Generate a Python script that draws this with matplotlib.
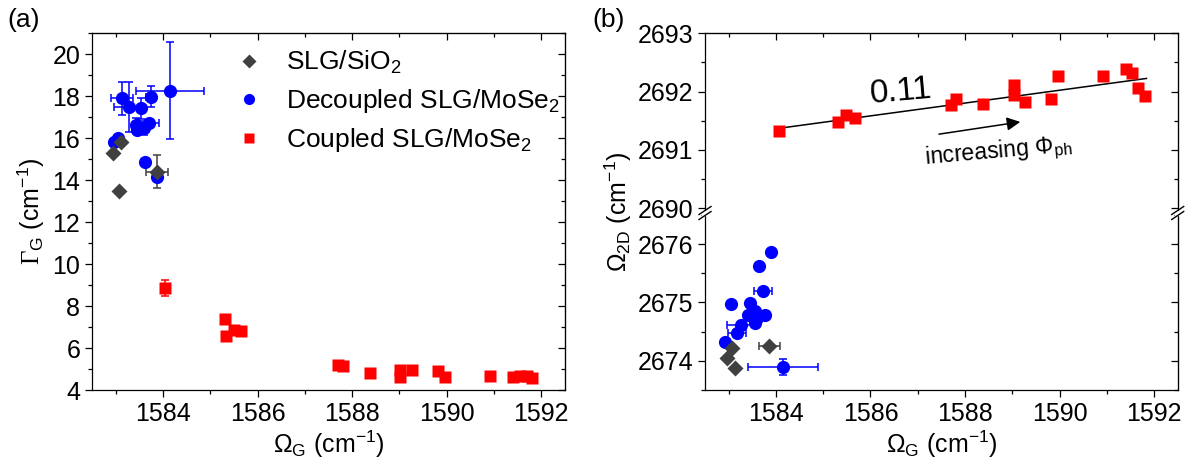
import numpy as np
import matplotlib
matplotlib.use('Agg')
import matplotlib.pyplot as plt
from matplotlib.ticker import MultipleLocator
from matplotlib.lines import Line2D

plt.rcParams['font.family'] = ['Liberation Sans', 'DejaVu Sans']
plt.rcParams['mathtext.fontset'] = 'custom'
plt.rcParams['mathtext.rm'] = 'Liberation Sans'
plt.rcParams['mathtext.it'] = 'Liberation Sans:italic'
plt.rcParams['mathtext.cal'] = 'Liberation Serif'
plt.rcParams['font.size'] = 18

GRAY = '#404040'
BLUE = '#0000ff'
RED = '#ff0000'

# ---- panel (a): Gamma_G vs Omega_G ----
sio2_x = [1583.11, 1582.95, 1583.07, 1583.87]
sio2_y = [15.84, 15.31, 13.50, 14.41]
sio2_xerr = [0, 0, 0, 0.23]
sio2_yerr = [0, 0, 0, 0.79]

dec_x = [1583.14, 1583.28, 1583.53, 1583.74, 1584.14, 1583.42, 1583.46, 1583.70,
         1583.60, 1582.97, 1583.04, 1583.63, 1583.88]
dec_y = [17.90, 17.48, 17.43, 17.98, 18.27, 16.63, 16.40, 16.71,
         16.48, 15.84, 16.00, 14.89, 14.17]
dec_xerr = [0.23, 0.32, 0, 0.10, 0.72, 0, 0, 0.21, 0, 0, 0, 0, 0]
dec_yerr = [0.80, 1.20, 0.50, 0.49, 2.31, 0.35, 0, 0, 0.35, 0, 0, 0, 0]

cpl_x = [1584.05, 1585.31, 1585.34, 1585.50, 1585.64, 1587.70, 1587.80, 1588.37,
         1589.01, 1589.01, 1589.26, 1589.81, 1589.96, 1590.91, 1591.40, 1591.55,
         1591.69, 1591.81]
cpl_y = [8.87, 7.40, 6.55, 6.87, 6.82, 5.20, 5.12, 4.81,
         4.97, 4.62, 4.97, 4.92, 4.62, 4.68, 4.62, 4.68,
         4.65, 4.57]
cpl_yerr = [0.38] + [0] * 17

# ---- panel (b): Omega_2D vs Omega_G ----
sio2_x2 = [1583.07, 1582.96, 1583.13, 1583.86]
sio2_y2 = [2674.22, 2674.05, 2673.88, 2674.26]
sio2_xerr2 = [0, 0, 0, 0.22]

dec_x2 = [1583.89, 1583.65, 1583.73, 1583.04, 1583.46, 1583.41, 1583.59, 1583.77,
          1583.55, 1583.55, 1583.27, 1583.17, 1582.92, 1584.15]
dec_y2 = [2675.86, 2675.62, 2675.19, 2674.98, 2674.99, 2674.79, 2674.73, 2674.79,
          2674.85, 2674.65, 2674.62, 2674.48, 2674.33, 2673.89]
dec_xerr2 = [0, 0, 0.19, 0, 0, 0, 0, 0, 0, 0, 0.30, 0.19, 0, 0.73]
dec_yerr2 = [0] * 13 + [0.14]

cpl_x2 = [1584.06, 1585.32, 1585.48, 1585.67, 1587.71, 1587.82, 1588.39, 1589.03,
          1589.03, 1589.28, 1589.81, 1589.97, 1590.91, 1591.41, 1591.54, 1591.66,
          1591.80]
cpl_y2 = [2691.32, 2691.47, 2691.60, 2691.54, 2691.77, 2691.87, 2691.78, 2692.11,
          2691.94, 2691.83, 2691.87, 2692.26, 2692.26, 2692.38, 2692.32, 2692.06,
          2691.92]

fit_slope = 0.11
fit_x = [1584.06, 1591.84]
fit_y0 = 2691.37

W, H = 1189, 468
fig = plt.figure(figsize=(W / 100, H / 100), dpi=100)


def fx(px):
    return px / W


def fy(py):
    return 1 - py / H


def errs(ax, x, y, xe, ye, color):
    x, y, xe, ye = map(np.asarray, (x, y, xe, ye))
    m = (xe > 0) | (ye > 0)
    if m.any():
        ax.errorbar(x[m], y[m], xerr=xe[m], yerr=ye[m], fmt='none', ecolor=color,
                    elinewidth=1.1, capsize=3, capthick=1.1, zorder=2)


def style(ax, xminor, yminor, top=True):
    ax.xaxis.set_minor_locator(MultipleLocator(xminor))
    ax.yaxis.set_minor_locator(MultipleLocator(yminor))
    ax.tick_params(which='major', direction='out', length=5, width=0.9, labelsize=18)
    ax.tick_params(which='minor', direction='out', length=3, width=0.9)
    for s in ax.spines.values():
        s.set_linewidth(0.9)
    sy = ax.secondary_yaxis('right')
    sy.yaxis.set_minor_locator(MultipleLocator(yminor))
    sy.yaxis.set_major_locator(ax.yaxis.get_major_locator())
    sy.tick_params(which='both', direction='in', labelright=False, width=0.9)
    sy.tick_params(which='major', length=5)
    sy.tick_params(which='minor', length=3)
    if top:
        sx = ax.secondary_xaxis('top')
        sx.xaxis.set_minor_locator(MultipleLocator(xminor))
        sx.xaxis.set_major_locator(MultipleLocator(2))
        sx.tick_params(which='both', direction='in', labeltop=False, width=0.9)
        sx.tick_params(which='major', length=5)
        sx.tick_params(which='minor', length=3)


# ---------------- panel (a) ----------------
axa = fig.add_axes([fx(92), fy(390), fx(565 - 92), fy(33.3) - fy(390)])
errs(axa, sio2_x, sio2_y, sio2_xerr, sio2_yerr, GRAY)
errs(axa, dec_x, dec_y, dec_xerr, dec_yerr, BLUE)
errs(axa, cpl_x, cpl_y, [0] * len(cpl_x), cpl_yerr, RED)
axa.plot(dec_x, dec_y, 'o', color=BLUE, ms=9.5, mec='none', zorder=3)
axa.plot(sio2_x, sio2_y, 'D', color=GRAY, ms=8, mec='none', zorder=4)
axa.plot(cpl_x, cpl_y, 's', color=RED, ms=9.3, mec='none', zorder=3)
axa.set_xlim(1582.5, 1592.5)
axa.set_ylim(4, 21)
axa.xaxis.set_major_locator(MultipleLocator(2))
axa.yaxis.set_major_locator(MultipleLocator(2))
style(axa, 1, 1)
axa.set_xlabel(r'$\Omega_\mathrm{G}$ (cm$^\mathrm{-1}$)', fontsize=18, labelpad=2)
axa.set_ylabel(r'$\mathcal{\Gamma}_\mathrm{G}$ (cm$^\mathrm{-1}$)', fontsize=18, labelpad=4)

handles = [Line2D([], [], ls='none', marker='D', color=GRAY, ms=7, mec='none'),
           Line2D([], [], ls='none', marker='o', color=BLUE, ms=8, mec='none'),
           Line2D([], [], ls='none', marker='s', color=RED, ms=7, mec='none')]
labels = [r'SLG/SiO$_2$', r'Decoupled SLG/MoSe$_2$', r'Coupled SLG/MoSe$_2$']
axa.legend(handles, labels, loc='upper left', bbox_to_anchor=(0.276, 1.0), frameon=False,
           fontsize=19, handlelength=0.8, handletextpad=1.0, labelspacing=0.42,
           borderaxespad=0.2)

fig.text(fx(7), fy(20), '(a)', fontsize=19, va='center', ha='left')
fig.text(fx(592), fy(20), '(b)', fontsize=19, va='center', ha='left')

# ---------------- panel (b) ----------------
xb0, xb1 = 705, 1177.7
ybrk = 213
axu = fig.add_axes([fx(xb0), fy(ybrk), fx(xb1 - xb0), fy(33.3) - fy(ybrk)])
axl = fig.add_axes([fx(xb0), fy(390), fx(xb1 - xb0), fy(ybrk) - fy(390)])

fit_y = [fit_y0 + fit_slope * (x - fit_x[0]) for x in fit_x]
axu.plot(fit_x, fit_y, '-', color='black', lw=1.1, zorder=2)
axu.plot(cpl_x2, cpl_y2, 's', color=RED, ms=9.3, mec='none', zorder=3)
axu.set_ylim(2693 - (ybrk - 33.3) / 58.3, 2693)
axu.set_xlim(1582.5, 1592.5)
axu.xaxis.set_major_locator(MultipleLocator(2))
axu.yaxis.set_major_locator(MultipleLocator(1))
style(axu, 1, 0.5)
axu.spines['bottom'].set_visible(False)
axu.tick_params(axis='x', which='both', bottom=False, labelbottom=False)
axu.text(1586.65, 2692.0, '0.11', fontsize=24, rotation=5, ha='center', va='center')
axu.annotate('', xy=(1589.17, 2691.48), xytext=(1587.45, 2691.27),
             arrowprops=dict(arrowstyle='-|>', color='black', lw=1.1,
                             mutation_scale=20, shrinkA=0, shrinkB=0))
axu.text(1588.7, 2690.96, r'increasing $\Phi_\mathrm{ph}$', fontsize=16.5, rotation=5,
         ha='center', va='center')

errs(axl, sio2_x2, sio2_y2, sio2_xerr2, [0] * 4, GRAY)
errs(axl, dec_x2, dec_y2, dec_xerr2, dec_yerr2, BLUE)
axl.plot(dec_x2, dec_y2, 'o', color=BLUE, ms=9.5, mec='none', zorder=3)
axl.plot(sio2_x2, sio2_y2, 'D', color=GRAY, ms=8, mec='none', zorder=4)
axl.set_ylim(2673.5, 2673.5 + (390 - ybrk) / 58.4)
axl.set_xlim(1582.5, 1592.5)
axl.xaxis.set_major_locator(MultipleLocator(2))
axl.yaxis.set_major_locator(MultipleLocator(1))
style(axl, 1, 0.5, top=False)
axl.spines['top'].set_visible(False)
axl.set_xlabel(r'$\Omega_\mathrm{G}$ (cm$^\mathrm{-1}$)', fontsize=18, labelpad=2)

fig.text(fx(618), fy(212), r'$\Omega_\mathrm{2D}$ (cm$^\mathrm{-1}$)', fontsize=18,
         rotation=90, ha='center', va='center')

# axis break marks
for xs in (xb0, xb1):
    fig.patches.append(plt.Rectangle((fx(xs - 3), fy(ybrk + 2.5)), fx(6), fy(ybrk - 2.5) - fy(ybrk + 2.5),
                                     transform=fig.transFigure, color='white', zorder=5))
    for off in (-2.5, 2.5):
        fig.lines.append(Line2D([fx(xs - 6), fx(xs + 6)], [fy(ybrk + off + 4), fy(ybrk + off - 4)],
                                transform=fig.transFigure, color='black', lw=1.0, zorder=6))

fig.savefig('out.png', dpi=100)
